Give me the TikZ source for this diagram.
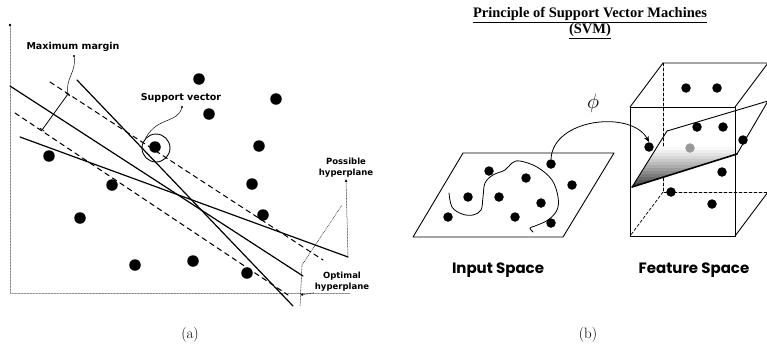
\documentclass[tikz,border=0pt]{standalone}
\usepackage{fontspec}
\usepackage{tikz}
\usetikzlibrary{arrows.meta,calc,positioning}
\newfontfamily\lblfont{DejaVu Sans}
\newfontfamily\ttlfont{Liberation Serif}
\newfontfamily\spcfont{Poppins}
\tikzset{
  dotv/.style={circle, fill, inner sep=0pt, minimum size=11.5pt},
  dots/.style={circle, fill, inner sep=0pt, minimum size=9.5pt},
  dotg/.style={dots, fill=black!40},
  hyp/.style={line width=1.2pt},
  marg/.style={line width=1pt, dash pattern=on 5pt off 4pt},
  ptr/.style={line width=0.5pt},
  lbl/.style={font=\lblfont\bfseries\fontsize{9.5}{10}\selectfont, inner sep=1pt},
  lbs/.style={lbl, align=center, font=\lblfont\bfseries\fontsize{8.5}{11}\selectfont},
  edg/.style={line width=0.9pt},
  hid/.style={line width=0.7pt, densely dashed},
  spc/.style={font=\spcfont\bfseries\fontsize{15}{17}\selectfont},
  every picture/.style={line cap=round, line join=round}
}

\begin{document}
\begin{tikzpicture}[x=1pt, y=-1pt]
  \useasboundingbox (0,0) rectangle (767,346);

  \coordinate (o) at (10,293);
  \coordinate (yt) at (10,25);
  \coordinate (xt) at (350,293);
  \draw[ptr, black!60, densely dotted] (yt) -- (o) -- (xt);
  \fill (yt) circle (1.3);

  \coordinate (h1a) at (10,86);
  \coordinate (h1b) at (303,276);
  \coordinate (h2a) at (77,80);
  \coordinate (h2b) at (293,306);
  \coordinate (h3a) at (20,137);
  \coordinate (h3b) at (348,257);
  \coordinate (m1a) at (50,82);
  \coordinate (m1b) at (323,260);
  \coordinate (m2a) at (15,113);
  \coordinate (m2b) at (288,295);
  \draw[hyp] (h1a) -- (h1b);
  \draw[hyp] (h2a) -- (h2b);
  \draw[hyp] (h3a) -- (h3b);
  \draw[marg] (m1a) -- (m1b);
  \draw[marg] (m2a) -- (m2b);

  \node[dotv] (p1) at (199,79) {};
  \node[dotv] (p2) at (276,99) {};
  \node[dotv] (p3) at (209,114) {};
  \node[dotv] (sv) at (155,147) {};
  \node[dotv] (p4) at (259,146) {};
  \node[dotv] (p5) at (252,184) {};
  \node[dotv] (p6) at (263,215) {};
  \node[dotv] (n1) at (49,156) {};
  \node[dotv] (n2) at (112,185) {};
  \node[dotv] (n3) at (80,218) {};
  \node[dotv] (n4) at (135,265) {};
  \node[dotv] (n5) at (193,261) {};
  \node[dotv] (n6) at (247,273) {};
  \node[circle, draw, line width=0.9pt, minimum size=28pt] (svc) at (156,148) {};

  \node[lbl] (mm) at (73,47) {Maximum margin};
  \coordinate (mmp) at (74,56);
  \coordinate (mt) at (68,94);
  \coordinate (mb) at (42,130);
  \fill (mmp) circle (1.2);
  \draw[ptr] (mmp) .. controls (77,72) and (65,78) .. (mt);
  \draw[line width=0.8pt, {Bar[width=5pt]}-{Bar[width=5pt]}] (mb) -- (mt);

  \node[lbl] (svl) at (181,98) {Support vector};
  \coordinate (svp) at (182,107);
  \fill (svp) circle (1.2);
  \draw[ptr] (svp) .. controls (178,124) and (158,116) .. (svc.north west);

  \node[lbs] (ph) at (346,168) {Possible\\hyperplane};
  \draw[ptr, densely dotted, -{Latex[length=3pt, width=2.5pt]}] (h3b) -- (ph.south);
  \coordinate (phk) at (342,205);
  \coordinate (phb) at (302,265);
  \coordinate (phe) at (300,306);
  \draw[ptr, densely dotted] (phk) -- (phb) -- (phe);
  \node[lbs] (oh) at (342,282) {Optimal\\hyperplane};
  \coordinate (ohp) at (300,295);
  \draw[ptr, densely dotted, -{Latex[length=3pt, width=2.5pt]}] (oh.south west) -- (ohp);

  \node[font=\fontsize{15}{17}\selectfont] (capa) at (190,335) {(a)};

  \node[font=\ttlfont\bfseries\fontsize{14.5}{14}\selectfont, align=center] (ttl) at (590,23)
    {\underline{Principle of Support Vector Machines}\\\underline{(SVM)}};

  \coordinate (ia) at (413,237);
  \coordinate (ib) at (563,237);
  \coordinate (ic) at (614,153);
  \coordinate (id) at (463,153);
  \draw[edg] (ia) -- (ib) -- (ic) -- (id) -- cycle;
  \node[dots] (i1) at (489,171) {};
  \node[dots] (i2) at (526,178) {};
  \node[dots] (i3) at (551,164) {};
  \node[dots] (i4) at (572,185) {};
  \node[dots] (i5) at (468,197) {};
  \node[dots] (i6) at (499,197) {};
  \node[dots] (i7) at (541,203) {};
  \node[dots] (i8) at (448,217) {};
  \node[dots] (i9) at (515,217) {};
  \node[dots] (i10) at (551,223) {};
  \draw[line width=0.8pt] plot[smooth, tension=0.6] coordinates {(449,193) (452,207) (462,214) (473,215) (481,210) (483,197) (485,183) (493,175) (505,170) (512,163) (520,161) (537,167) (552,180) (558,197) (557,210) (548,220) (535,226) (530,228) (533,232)};

  \coordinate (fa) at (630,107);
  \coordinate (fb) at (735,107);
  \coordinate (fc) at (735,236);
  \coordinate (fd) at (630,236);
  \coordinate (ba) at (663,63);
  \coordinate (bb) at (768,63);
  \coordinate (bc) at (768,192);
  \coordinate (bd) at (663,192);
  \draw[hid] (ba) -- (bd) -- (bc);
  \draw[hid] (bd) -- (fd);

  \coordinate (ha) at (632,187);
  \coordinate (hb) at (667,131);
  \coordinate (hc) at (768,101);
  \coordinate (hd) at (737,154);
  \begin{scope}
    \clip (ha) -- (hb) -- (hc) -- (hd) -- cycle;
    \foreach \k in {0,...,13} {
      \pgfmathsetmacro{\shd}{80*(1-\k/14)^1.3}
      \fill[black!\shd] (625,189-3*\k) rectangle (770,186-3*\k);
    }
  \end{scope}
  \draw[edg] (ha) -- (hb) -- (hc) -- (hd);
  \draw[line width=1.6pt] (hd) -- (ha);

  \draw[edg] (fa) -- (fb) -- (fc) -- (fd) -- cycle;
  \draw[edg] (fa) -- (ba) -- (bb) -- (fb);
  \draw[edg] (bb) -- (bc) -- (fc);

  \node[dots] (c1) at (686,88) {};
  \node[dots] (c2) at (717,88) {};
  \node[dots] (c3) at (697,127) {};
  \node[dots] (c4) at (723,127) {};
  \node[dotg] (c5) at (690,148) {};
  \node[dots] (c6) at (649,147) {};
  \node[dots] (c7) at (743,140) {};
  \node[dots] (c8) at (722,172) {};
  \node[dots] (c9) at (671,192) {};
  \node[dots] (c10) at (712,204) {};

  \draw[line width=0.8pt, -{Stealth[length=6pt, width=5pt]}] (i3.north) .. controls (553,118) and (632,110) .. (c6.north);
  \node[font=\fontsize{20}{22}\selectfont] (phi) at (593,103) {$\phi$};

  \node[spc] (ins) at (498,270) {Input Space};
  \node[spc] (fes) at (694,270) {Feature Space};
  \node[font=\fontsize{15}{17}\selectfont] (capb) at (588,335) {(b)};
\end{tikzpicture}
\end{document}
